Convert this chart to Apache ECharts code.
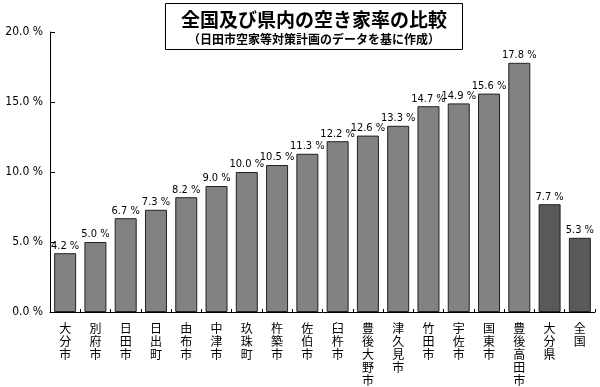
<!DOCTYPE html>
<html><head><meta charset="utf-8">
<script src="https://cdn.jsdelivr.net/npm/echarts@6/dist/echarts.min.js"></script>
<style>html,body{margin:0;padding:0;background:#fff}#c{width:600px;height:387px}</style>
</head><body><div id="c"></div>
<script>
const categories = ['大分市','別府市','日田市','日出町','由布市','中津市','玖珠町','杵築市','佐伯市','臼杵市','豊後大野市','津久見市','竹田市','宇佐市','国東市','豊後高田市','大分県','全国'];
const values = [4.2,5.0,6.7,7.3,8.2,9.0,10.0,10.5,11.3,12.2,12.6,13.3,14.7,14.9,15.6,17.8,7.7,5.3];
const darkCategories = ['大分県','全国'];
const yTicks = [0,5,10,15,20];
const titleText = '全国及び県内の空き家率の比較';
const subText = '（日田市空家等対策計画のデータを基に作成）';

const numFont = '"DejaVu Sans Condensed","DejaVu Sans",sans-serif';
const chart = echarts.init(document.getElementById('c'));
chart.setOption({
  animation:false,
  grid:{left:50,right:5,top:32,bottom:73},
  graphic:[
    {type:'rect',shape:{x:165.5,y:3.5,width:297,height:46},style:{fill:'#fff',stroke:'#000',lineWidth:1},z:10},
    {type:'text',x:314,y:10,style:{text:titleText,font:'bold 19px "Noto Sans CJK JP"',fill:'#000',align:'center',verticalAlign:'top'},z:11},
    {type:'text',x:314,y:33,style:{text:subText,font:'bold 12px "Noto Sans CJK JP"',fill:'#000',align:'center',verticalAlign:'top'},z:11}
  ],
  xAxis:{type:'category',data:categories,
    axisLine:{lineStyle:{color:'#000',width:1}},
    axisTick:{show:true,inside:true,length:3,lineStyle:{color:'#000'}},
    axisLabel:{interval:0,margin:10,color:'#000',fontSize:12,lineHeight:13,fontFamily:'"Noto Sans CJK JP"',
      formatter:v=>v.split('').join('\n')}},
  yAxis:{type:'value',min:0,max:20,interval:5,
    axisLine:{show:true,lineStyle:{color:'#000'}},
    axisTick:{show:true,inside:true,length:5,lineStyle:{color:'#000'}},
    splitLine:{show:false},
    axisLabel:{color:'#000',fontSize:12,fontFamily:numFont,margin:7,formatter:v=>v.toFixed(1)+' %'}},
  series:[{type:'bar',barWidth:22,
    data:values.map((v,i)=>({value:v,itemStyle:{color:darkCategories.includes(categories[i])?'#595959':'#828282'}})),
    itemStyle:{borderColor:'#222',borderWidth:1},
    label:{show:true,position:'top',distance:2,color:'#000',fontSize:11,fontFamily:numFont,formatter:p=>p.value.toFixed(1)+' %'}}]
});
</script></body></html>
